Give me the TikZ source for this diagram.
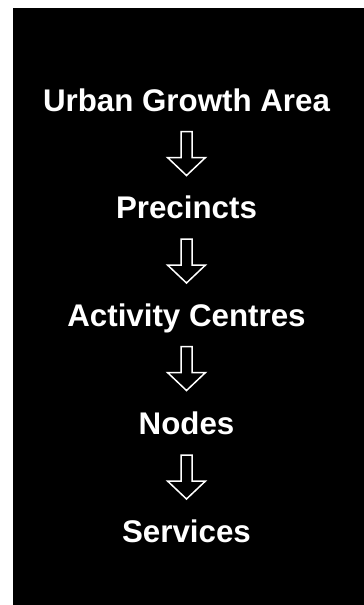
\documentclass[tikz,border=0pt]{standalone}
\usepackage{fontspec}
\setmainfont{Liberation Sans}
\usetikzlibrary{calc}
\tikzset{
  lbl/.style={text=white, anchor=base, inner sep=0pt, font=\bfseries\fontsize{31.3}{36}\selectfont},
  hollowarrow/.style={draw=white, fill=black, line width=1.5pt, line join=miter}
}
\newcommand{\downarrowfrom}[1]{%
  \draw[hollowarrow] ($(#1)+(-5.5,0)$) -- ++(0,26) -- ++(-13.5,0) -- ++(19,18) -- ++(19,-18) -- ++(-13.5,0) -- ++(0,-26) -- cycle;}
\begin{document}
\begin{tikzpicture}[x=1pt,y=-1pt]
  \useasboundingbox (0,0) rectangle (364,605);
  \fill[black] (13,8) rectangle (364,605);
  \node[lbl] (uga) at (186.5,111) {Urban Growth Area};
  \node[lbl] (pre) at (186.5,218.5) {Precincts};
  \node[lbl] (act) at (186.5,326) {Activity Centres};
  \node[lbl] (nod) at (186.5,434.5) {Nodes};
  \node[lbl] (ser) at (186.5,542.5) {Services};
  \coordinate (a1) at ($(uga.base)+(0,20.5)$);
  \coordinate (a2) at ($(pre.base)+(0,20.5)$);
  \coordinate (a3) at ($(act.base)+(0,20.5)$);
  \coordinate (a4) at ($(nod.base)+(0,20.5)$);
  \downarrowfrom{a1}
  \downarrowfrom{a2}
  \downarrowfrom{a3}
  \downarrowfrom{a4}
\end{tikzpicture}
\end{document}
